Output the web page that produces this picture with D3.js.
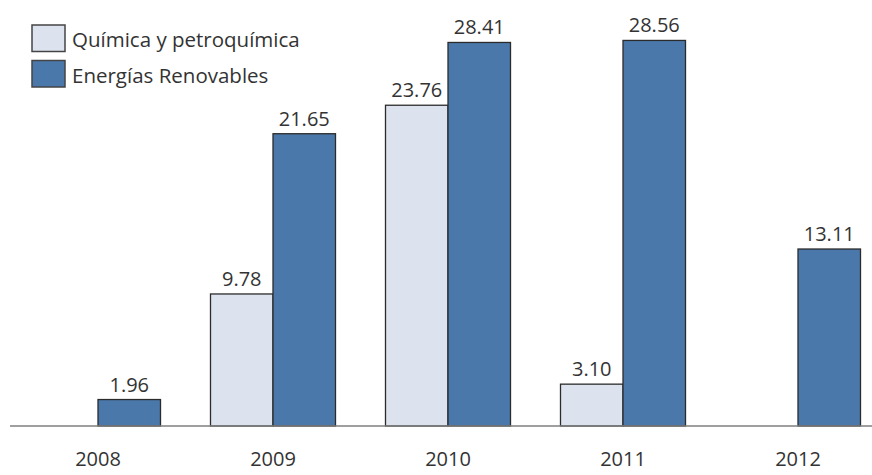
<!DOCTYPE html>
<html><head><meta charset="utf-8">
<script src="https://cdn.jsdelivr.net/npm/d3@7"></script>
<style>body{margin:0;background:#fff}svg{display:block}text{font-family:"Open Sans",sans-serif;fill:#333}</style>
</head><body>
<svg id="c" width="872" height="475"></svg>
<script>
const years = ["2008","2009","2010","2011","2012"];
const seriesNames = ["Química y petroquímica","Energías Renovables"];
const quimica = [null, 9.78, 23.76, 3.10, null];
const renovables = [1.96, 21.65, 28.41, 28.56, 13.11];
const colors = ["#dde3ee","#4a78ab"];

const svg = d3.select("#c");
const baseY = 426;
const x0 = d3.scaleBand().domain(years).range([10.5, 885.5]);
const x1 = d3.scaleBand().domain(seriesNames).range([25, 150]);
const y = d3.scaleLinear().domain([0, 30]).range([baseY, baseY - 30*13.5]);

const data = [quimica, renovables];
years.forEach((yr, i) => {
  const g = svg.append("g").attr("transform", `translate(${x0(yr)},0)`);
  seriesNames.forEach((s, j) => {
    const v = data[j][i];
    if (v == null) return;
    g.append("rect")
      .attr("x", x1(s)).attr("width", x1.bandwidth())
      .attr("y", y(v)).attr("height", y(0) - y(v))
      .attr("fill", colors[j]).attr("stroke", "#2b2b2b").attr("stroke-width", 1.3);
    g.append("text")
      .attr("x", x1(s) + x1.bandwidth()/2).attr("y", y(v) - 8)
      .attr("text-anchor", "middle").attr("font-size", 20)
      .text(v.toFixed(2));
  });
});

// axis
const axis = d3.axisBottom(x0).tickSize(0).tickPadding(0);
const ag = svg.append("g").attr("transform", `translate(0,${baseY})`).call(axis);
ag.select(".domain").remove();
ag.selectAll("text").attr("font-size", 20).attr("dy", 0).attr("y", 40).style("fill", "#333").style("font-family", '"Open Sans",sans-serif');
svg.append("line").attr("x1", 10).attr("x2", 872).attr("y1", baseY).attr("y2", baseY)
  .attr("stroke", "#7f7f7f").attr("stroke-width", 1.5);

// legend
seriesNames.forEach((s, j) => {
  const ly = 25 + j*35.5;
  svg.append("rect").attr("x", 32).attr("y", ly).attr("width", 33).attr("height", 26.5)
    .attr("fill", colors[j]).attr("stroke", "#444").attr("stroke-width", 1.5);
  svg.append("text").attr("x", 72).attr("y", ly + 22).attr("font-size", 20.5).text(s);
});
</script>
</body></html>
